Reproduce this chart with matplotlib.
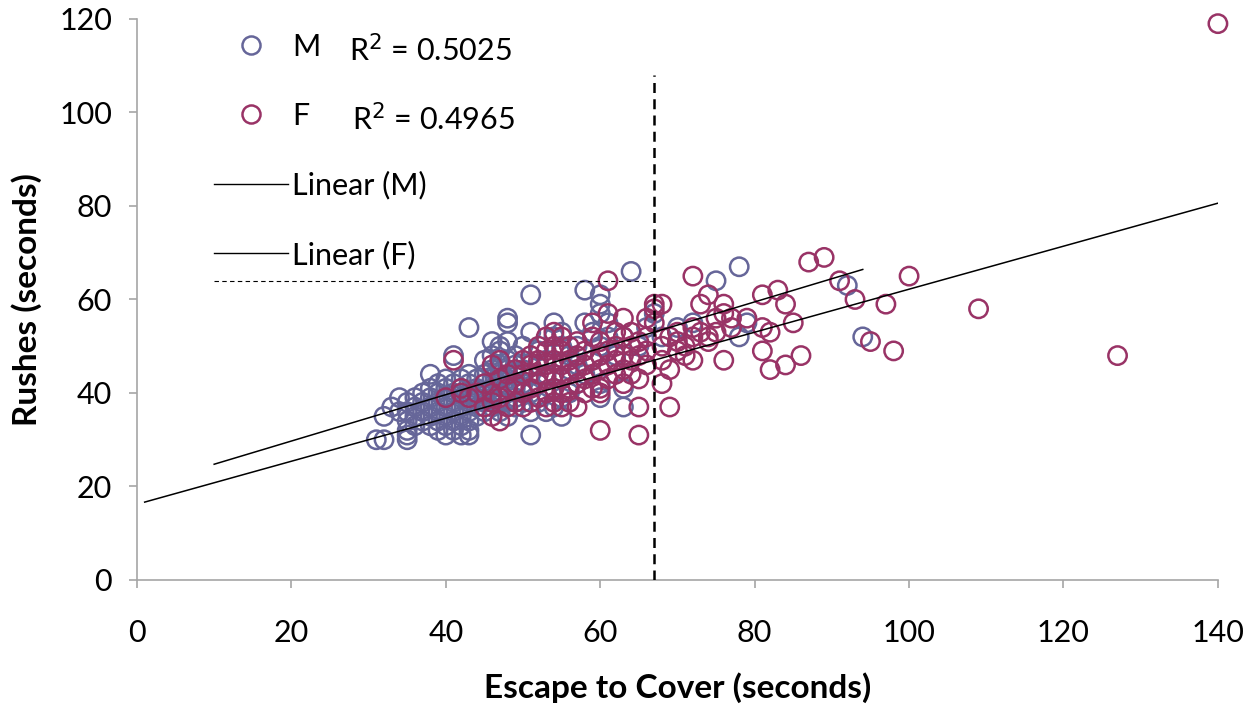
import matplotlib
matplotlib.use("Agg")
import matplotlib.pyplot as plt
from matplotlib.lines import Line2D

plt.rcParams["font.family"] = ["Lato", "DejaVu Sans"]

# Males: escape-to-cover time vs rushes (seconds)
m_x = [31, 32, 32, 33, 34, 34, 35, 35, 35, 35, 35, 35, 36, 36, 36, 36, 37, 37, 37, 37,
       38, 38, 38, 38, 38, 38, 39, 39, 39, 39, 39, 39, 40, 40, 40, 40, 40, 40, 40,
       41, 41, 41, 41, 41, 41, 41, 42, 42, 42, 42, 42, 42, 42, 43, 43, 43, 43, 43, 43,
       43, 43, 43, 44, 44, 44, 44, 44, 45, 45, 45, 45, 45, 45, 46, 46, 46, 46, 46, 46,
       46, 47, 47, 47, 47, 47, 47, 47, 47, 48, 48, 48, 48, 48, 48, 48, 48, 48, 49, 49,
       49, 49, 49, 49, 50, 50, 50, 50, 50, 51, 51, 51, 51, 51, 51, 52, 52, 52, 52, 53,
       53, 53, 53, 54, 54, 54, 54, 54, 55, 55, 55, 55, 55, 56, 56, 56, 57, 57, 57, 58,
       58, 58, 59, 59, 60, 60, 60, 60, 60, 60, 61, 61, 62, 63, 63, 63, 64, 65, 66, 67,
       68, 70, 72, 75, 78, 78, 79, 92, 94]
m_y = [30, 30, 35, 37, 39, 36, 30, 31, 32, 34, 36, 38, 33, 35, 37, 39, 34, 36, 38, 40,
       33, 35, 37, 39, 41, 44, 32, 34, 36, 38, 40, 42, 31, 33, 35, 37, 39, 41, 43,
       32, 34, 36, 38, 40, 42, 48, 31, 33, 35, 37, 39, 41, 43, 31, 32, 34, 36, 38, 40,
       42, 44, 54, 35, 37, 39, 41, 43, 36, 38, 40, 42, 44, 47, 37, 39, 41, 43, 45, 48,
       51, 36, 38, 40, 42, 44, 46, 49, 50, 35, 38, 40, 43, 45, 47, 51, 55, 56, 37, 39,
       41, 44, 46, 48, 38, 40, 42, 45, 50, 31, 36, 40, 44, 53, 61, 38, 42, 46, 49, 36,
       40, 44, 47, 37, 41, 44, 52, 55, 35, 39, 43, 50, 53, 40, 45, 48, 42, 46, 50, 44,
       55, 62, 47, 53, 39, 42, 50, 57, 59, 61, 52, 55, 48, 37, 41, 52, 66, 50, 54, 57,
       52, 54, 55, 64, 67, 52, 55, 63, 52]

# Females
f_x = [40, 41, 42, 42, 43, 44, 45, 45, 46, 46, 46, 46, 47, 47, 47, 47, 48, 48, 48, 49,
       49, 49, 50, 50, 50, 50, 51, 51, 51, 51, 52, 52, 52, 52, 52, 53, 53, 53, 53, 53,
       53, 54, 54, 54, 54, 54, 54, 55, 55, 55, 55, 55, 55, 56, 56, 56, 56, 56, 57, 57,
       57, 57, 57, 58, 58, 58, 58, 59, 59, 59, 59, 59, 60, 60, 60, 60, 60, 60, 61, 61,
       61, 61, 61, 62, 62, 62, 62, 63, 63, 63, 63, 63, 64, 64, 64, 64, 65, 65, 65, 65,
       65, 66, 66, 66, 66, 67, 67, 67, 68, 68, 68, 68, 69, 69, 69, 70, 70, 70, 71, 71,
       72, 72, 72, 72, 73, 73, 74, 74, 74, 75, 75, 76, 76, 76, 77, 77, 79, 81, 81, 81,
       82, 82, 83, 84, 84, 85, 86, 87, 89, 91, 93, 95, 97, 98, 100, 109, 127, 140]
f_y = [39, 47, 40, 41, 39, 40, 37, 42, 35, 38, 40, 46, 34, 39, 43, 47, 37, 41, 44, 38,
       42, 45, 37, 40, 44, 47, 38, 41, 46, 48, 39, 42, 44, 47, 50, 37, 40, 43, 46, 49,
       52, 38, 41, 44, 47, 50, 53, 37, 40, 43, 46, 49, 52, 38, 41, 44, 47, 50, 37, 42,
       45, 48, 51, 40, 43, 46, 49, 41, 44, 47, 52, 55, 32, 40, 41, 45, 48, 51, 43, 46,
       49, 57, 64, 44, 47, 50, 53, 42, 45, 48, 52, 56, 44, 47, 50, 53, 31, 37, 43, 48,
       51, 46, 49, 52, 56, 55, 58, 59, 42, 47, 50, 59, 37, 45, 52, 49, 51, 53, 48, 50,
       47, 52, 54, 65, 53, 59, 51, 52, 61, 53, 56, 47, 57, 59, 56, 54, 56, 49, 54, 61,
       45, 53, 62, 46, 59, 55, 48, 68, 69, 64, 60, 51, 59, 49, 65, 58, 48, 119]

# least-squares fits (slope, intercept) and span of each trend line
m_fit = (0.496, 19.8)
f_fit = (0.46, 16.2)
m_span = [10, 94]
f_span = [1, 140]
m_r2 = 0.5025
f_r2 = 0.4965

cutoff_x = 67
ref_y = 64

blue = "#666699"
maroon = "#993366"

fig = plt.figure(figsize=(12.53, 7.08), dpi=100)
ax = fig.add_axes([0.1093, 0.1808, 0.8627, 0.7924])

ax.scatter(m_x, m_y, s=175, facecolors="none", edgecolors=blue, linewidths=1.8,
           zorder=2, clip_on=False)
ax.scatter(f_x, f_y, s=175, facecolors="none", edgecolors=maroon, linewidths=1.8,
           zorder=3, clip_on=False)

ax.plot(m_span, [m_fit[0] * v + m_fit[1] for v in m_span], color="black", lw=1.1, zorder=4)
ax.plot(f_span, [f_fit[0] * v + f_fit[1] for v in f_span], color="black", lw=1.1, zorder=4)

ax.plot([cutoff_x, cutoff_x], [0, 108], color="black", lw=1.8, ls=(0, (4, 2.5)), zorder=5)
ax.plot([10, cutoff_x], [ref_y, ref_y], color="black", lw=0.8, ls=(0, (4, 3)), zorder=5)

ax.set_xlim(0, 140)
ax.set_ylim(0, 120)
ax.set_xticks(range(0, 141, 20))
ax.set_yticks(range(0, 121, 20))
for side in ["top", "right"]:
    ax.spines[side].set_visible(False)
for side in ["left", "bottom"]:
    ax.spines[side].set_color("#a6a6a6")
    ax.spines[side].set_linewidth(1.2)
ax.tick_params(direction="out", length=6, width=1.2, color="#a6a6a6", labelsize=22)
ax.tick_params(axis="x", pad=22)
ax.tick_params(axis="y", pad=12)

ax.set_xlabel("Escape to Cover (seconds)", fontsize=24, fontweight="bold", labelpad=18)
ax.set_ylabel("Rushes (seconds)", fontsize=24, fontweight="bold", labelpad=12)

handles = [
    Line2D([], [], ls="none", marker="o", ms=13, mfc="none", mec=blue, mew=1.8),
    Line2D([], [], ls="none", marker="o", ms=13, mfc="none", mec=maroon, mew=1.8),
    Line2D([], [], color="black", lw=1.0),
    Line2D([], [], color="black", lw=1.0),
]
ax.legend(handles, ["M", "F", "Linear (M)", "Linear (F)"], loc="upper left",
          bbox_to_anchor=(0.046, 1.024), frameon=False, fontsize=22,
          handlelength=2.4, handletextpad=0.15, labelspacing=1.34)

ax.text(0.196, 0.944, f"R$^2$ = {m_r2:.4f}", transform=ax.transAxes, fontsize=22,
        va="center", ha="left")
ax.text(0.199, 0.821, f"R$^2$ = {f_r2:.4f}", transform=ax.transAxes, fontsize=22,
        va="center", ha="left")

fig.savefig("out.png", dpi=100)
